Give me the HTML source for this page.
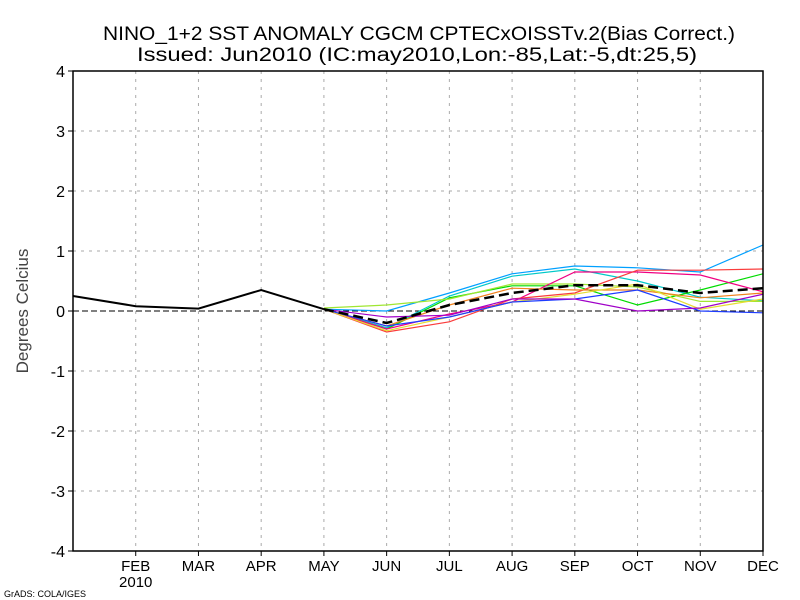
<!DOCTYPE html>
<html><head><meta charset="utf-8"><style>body{margin:0;background:#fff}svg{display:block;font-family:"Liberation Sans",sans-serif}</style></head>
<body>
<svg id="c" width="800" height="600">
<text x="103" y="40" textLength="632" lengthAdjust="spacingAndGlyphs" font-size="19">NINO_1+2 SST ANOMALY CGCM CPTECxOISSTv.2(Bias Correct.)</text>
<text x="137" y="61" textLength="560" lengthAdjust="spacingAndGlyphs" font-size="19">Issued:  Jun2010 (IC:may2010,Lon:-85,Lat:-5,dt:25,5)</text>
<text x="28" y="311" transform="rotate(-90 28 311)" text-anchor="middle" font-size="17" fill="#444">Degrees Celcius</text>
<text x="4" y="597" font-size="9">GrADS: COLA/IGES</text>
<g id="g"></g>
</svg>
<script>
const months=["JAN","FEB","MAR","APR","MAY","JUN","JUL","AUG","SEP","OCT","NOV","DEC"];
const yTicks=[-4,-3,-2,-1,0,1,2,3,4];
const observed=[0.25,0.08,0.04,0.35,0.03];
const ensembleMean=[0.03,-0.2,0.1,0.3,0.43,0.43,0.3,0.38];
const mCyan=[0.03,-0.28,0.25,0.58,0.7,0.5,0.23,0.17];
const mLightBlue=[0.03,0.0,0.3,0.62,0.75,0.72,0.65,1.1];
const mGreen=[0.03,-0.3,0.22,0.42,0.42,0.1,0.35,0.62];
const mLightGreen=[0.05,0.1,0.2,0.45,0.45,0.4,0.16,0.16];
const mPink=[0.03,-0.3,-0.05,0.15,0.65,0.65,0.6,0.32];
const mRed=[0.03,-0.35,-0.18,0.2,0.3,0.68,0.68,0.7];
const mOrange=[0.03,-0.25,0.1,0.38,0.35,0.35,0.22,0.3];
const mYellow=[0.03,-0.33,-0.1,0.15,0.28,0.45,0.03,0.2];
const mBlue=[0.03,-0.25,-0.1,0.15,0.2,0.35,0.0,-0.03];
const mPurple=[0.03,-0.1,-0.07,0.2,0.2,0.0,0.05,0.28];
const members=[[mCyan,"#00c8c8","cyan"],[mLightBlue,"#00a0ff","light-blue"],[mGreen,"#00dc00","green"],[mLightGreen,"#a0e632","light-green"],[mPink,"#f00082","pink"],[mRed,"#fa3c3c","red"],[mOrange,"#f0821e","orange"],[mYellow,"#e6dc32","yellow"],[mBlue,"#1e3cff","blue"],[mPurple,"#a000c8","purple"]];
const X0=73,X1=763,Y0=551,Y1=71;
const x=i=>X0+i*(X1-X0)/11;
const y=v=>Y0-(v+4)*(Y0-Y1)/8;
const g=document.getElementById('g');const NS="http://www.w3.org/2000/svg";
function mk(t,a,p){const e=document.createElementNS(NS,t);for(const k in a)e.setAttribute(k,a[k]);(p||g).appendChild(e);return e;}
for(let i=1;i<11;i++){const l=mk('line',{x1:x(i),x2:x(i),y1:Y1,y2:Y0,stroke:'#aaa','stroke-dasharray':'3,5'});

}
yTicks.forEach(v=>{if(v>-4&&v<4&&v!==0){const l=mk('line',{x1:X0,x2:X1,y1:y(v),y2:y(v),stroke:'#aaa','stroke-dasharray':'3,5'});

}
const t=mk('text',{x:X0-8,y:y(v)+6,'text-anchor':'end','font-size':'16'});t.textContent=v;


mk('line',{x1:X0-5,x2:X0,y1:y(v),y2:y(v),stroke:'#000'});});
const z=mk('line',{x1:X0,x2:X1,y1:y(0),y2:y(0),stroke:'#000','stroke-dasharray':'6,3'});


months.forEach((m,i)=>{if(i===0)return;const t=mk('text',{x:x(i),y:Y0+20,'text-anchor':'middle','font-size':'15'});t.textContent=m;


mk('line',{x1:x(i),x2:x(i),y1:Y0,y2:Y0+5,stroke:'#000'});});
const yr=mk('text',{x:x(1),y:Y0+36,'text-anchor':'middle','font-size':'15'});yr.textContent="2010";


function line(arr,off,col,w,dash,name){const p=mk('polyline',{points:arr.map((v,i)=>x(i+off)+','+y(v)).join(' '),fill:'none',stroke:col,'stroke-width':w,'stroke-dasharray':dash||'none'});

}
members.forEach(m=>line(m[0],4,m[1],1.2,null,'member-'+m[2]));
line(ensembleMean,4,'#000',2.5,'10,5','ensemble-mean-line');
line(observed,0,'#000',2,null,'observed-line');
const f=mk('rect',{x:X0,y:Y1,width:X1-X0,height:Y0-Y1,fill:'none',stroke:'#000','stroke-width':1.5});


</script>
</body></html>
